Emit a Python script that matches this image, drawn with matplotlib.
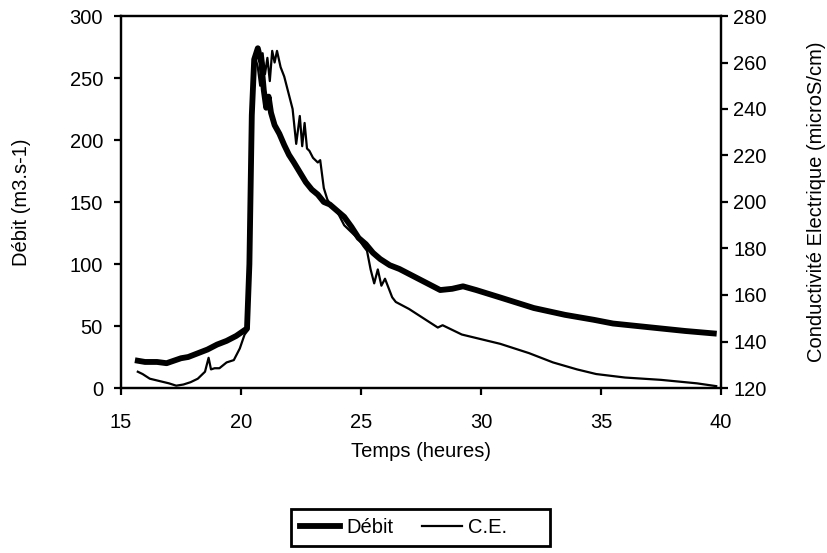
import matplotlib
matplotlib.use("Agg")
import matplotlib.pyplot as plt
from matplotlib.lines import Line2D

plt.rcParams['font.family'] = ['Liberation Sans', 'DejaVu Sans']

# Débit (left axis, m3.s-1)
debit_t = [15.7, 16.0, 16.5, 16.9, 17.2, 17.5, 17.8, 18.2, 18.6, 19.0, 19.4, 19.8,
           20.1, 20.25, 20.35, 20.45, 20.55, 20.7, 20.85, 20.95, 21.05, 21.15, 21.25,
           21.4, 21.6, 21.8, 22.0, 22.2, 22.45, 22.7, 22.95, 23.2, 23.45, 23.7, 24.0,
           24.3, 24.6, 24.9, 25.2, 25.5, 25.8, 26.2, 26.6, 27.0, 27.5, 28.0, 28.3,
           28.8, 29.25, 29.8, 30.8, 32.2, 33.5, 34.7, 35.5, 36.5, 37.5, 38.5, 39.7]
debit_q = [22, 21, 21, 20, 22, 24, 25, 28, 31, 35, 38, 42,
           46, 48, 100, 220, 265, 274, 262, 240, 226, 235, 222,
           212, 205, 196, 188, 182, 174, 166, 160, 156, 150, 148, 143,
           138, 130, 121, 116, 109, 104, 99, 96, 92, 87, 82, 79,
           80, 82, 79, 73, 64.5, 59, 55, 52, 50, 48, 46, 44]

# Conductivité électrique (right axis, microS/cm)
ce_t = [15.7, 15.9, 16.2, 16.6, 17.0, 17.3, 17.6, 17.9, 18.2, 18.5, 18.65, 18.75,
        18.9, 19.1, 19.4, 19.7, 19.95, 20.15, 20.3, 20.4, 20.5, 20.6, 20.7, 20.8,
        20.9, 21.0, 21.1, 21.2, 21.3, 21.4, 21.5, 21.65, 21.8, 22.0, 22.15, 22.3,
        22.45, 22.55, 22.65, 22.75, 22.85, 23.0, 23.2, 23.3, 23.45, 23.6, 23.8,
        24.0, 24.3, 24.6, 24.9, 25.1, 25.25, 25.4, 25.55, 25.7, 25.85, 26.0,
        26.15, 26.3, 26.45, 27.0, 27.6, 28.2, 28.4, 29.2, 30.0, 30.8, 32.0,
        33.0, 34.0, 34.8, 36.0, 37.5, 39.0, 39.8]
ce_v = [127, 126, 124, 123, 122, 121, 121.5, 122.5, 124, 127, 133, 128,
        128.5, 128.5, 131, 132, 137, 143, 145, 200, 255, 262, 258, 250,
        264, 255, 262, 252, 265, 260, 265, 258, 254, 246, 240, 225,
        237, 224, 234, 223, 222, 219, 217, 218, 206, 201, 198,
        196, 190, 187, 184, 181, 179, 171, 165, 171, 164, 167,
        163, 159, 157, 154, 150, 146, 147, 143, 141, 139, 135,
        131, 128, 126, 124.5, 123.5, 122, 120.8]

FS = 14.5

fig = plt.figure(figsize=(8.28, 5.53), dpi=100)
ax = fig.add_axes([121/828, 1-388/553, 600/828, 372/553])
ax2 = ax.twinx()

ax.plot(debit_t, debit_q, color='black', lw=4.2, solid_joinstyle='round', zorder=3)
ax2.plot(ce_t, ce_v, color='black', lw=1.6, solid_joinstyle='round')

ax.set_xlim(15, 40)
ax.set_ylim(0, 300)
ax2.set_ylim(120, 280)
ax.set_xticks(range(15, 41, 5))
ax.set_yticks(range(0, 301, 50))
ax2.set_yticks(range(120, 281, 20))

for a in (ax, ax2):
    for s in a.spines.values():
        s.set_linewidth(1.6)
    a.tick_params(direction='out', length=5, width=1.6, labelsize=FS)
ax.tick_params(axis='y', pad=8)
ax.tick_params(axis='x', pad=13)
ax2.tick_params(axis='y', pad=4)

ax.set_xlabel('Temps (heures)', fontsize=FS)
ax.set_ylabel('Débit (m3.s-1)', fontsize=FS)
ax2.set_ylabel('Conductivité Electrique (microS/cm)', fontsize=FS)
ax.xaxis.set_label_coords(0.5, -0.145)
ax.yaxis.set_label_coords(-0.15, 0.5)
ax2.yaxis.set_label_coords(1.143, 0.5)

handles = [Line2D([], [], color='black', lw=4.2), Line2D([], [], color='black', lw=1.6)]
leg = fig.legend(handles, ['Débit', 'C.E.      '], loc='center', bbox_to_anchor=(0.508, 0.046),
                 ncol=2, fontsize=FS, frameon=True, fancybox=False, framealpha=1,
                 handlelength=2.0, handletextpad=0.3, columnspacing=1.4, borderpad=0.45)
leg.get_frame().set_edgecolor('black')
leg.get_frame().set_linewidth(2)

fig.savefig('out.png', dpi=100)
